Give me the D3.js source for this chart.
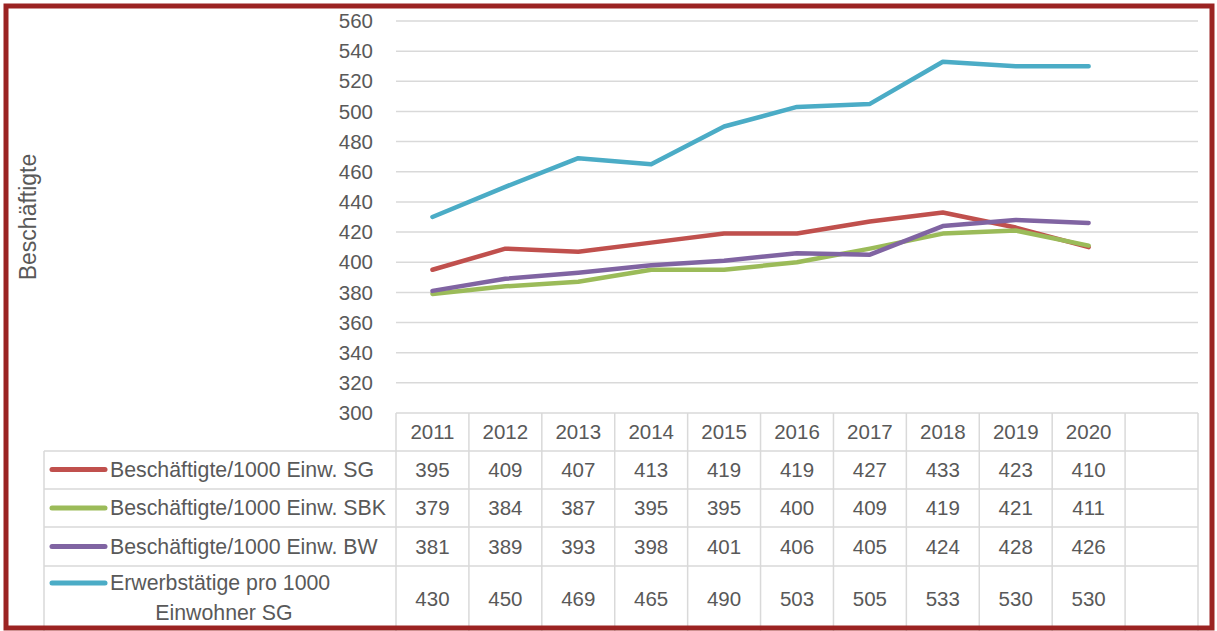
<!DOCTYPE html>
<html>
<head>
<meta charset="utf-8">
<script src="https://cdn.jsdelivr.net/npm/d3@7"></script>
<style>
  body { margin: 0; background: #fff; }
  svg { display: block; font-family: "Liberation Sans", Arial, sans-serif; }
  .tick-label, .cell-text { fill: #595959; font-size: 20.5px; }
  .legend-text { font-size: 21.3px; }
  .grid { stroke: #d9d9d9; stroke-width: 1.5; }
  .table-line { stroke: #d9d9d9; stroke-width: 1.5; fill: none; }
  .series { fill: none; stroke-width: 4.5; stroke-linejoin: round; stroke-linecap: round; }
</style>
</head>
<body>
<svg></svg>
<script>
// Data
var years = ["2011", "2012", "2013", "2014", "2015", "2016", "2017", "2018", "2019", "2020"];
var seriesNames = [
  ["Beschäftigte/1000 Einw. SG"],
  ["Beschäftigte/1000 Einw. SBK"],
  ["Beschäftigte/1000 Einw. BW"],
  ["Erwerbstätige pro 1000", "Einwohner SG"]
];
var seriesColors = ["#c0504d", "#9bbb59", "#8064a2", "#4bacc6"];
var valuesSG  = [395, 409, 407, 413, 419, 419, 427, 433, 423, 410];
var valuesSBK = [379, 384, 387, 395, 395, 400, 409, 419, 421, 411];
var valuesBW  = [381, 389, 393, 398, 401, 406, 405, 424, 428, 426];
var valuesErw = [430, 450, 469, 465, 490, 503, 505, 533, 530, 530];
var yTicks = d3.range(300, 561, 20);
var allValues = [valuesSG, valuesSBK, valuesBW, valuesErw];

// Layout
var svgWidth = 1217,
    svgHeight = 631,
    plotLeft = 396,
    plotRight = 1198,
    plotTop = 21,
    plotBottom = 413,
    legendLeft = 44,
    rowEdges = [413, 451, 489, 527, 566, 640];

var svg = d3.select("svg")
  .attr("width", svgWidth)
  .attr("height", svgHeight);

// one spare column after 2020, as in the spreadsheet
var x = d3.scaleBand()
  .domain(years.concat([""]))
  .range([plotLeft, plotRight]);

var y = d3.scaleLinear()
  .domain([300, 560])
  .range([plotBottom, plotTop]);

// Gridlines
svg.append("g")
  .selectAll("line")
  .data(yTicks.filter(function (d) { return d > 300; }))
  .enter()
    .append("line")
    .classed("grid", true)
    .attr("x1", plotLeft)
    .attr("x2", plotRight)
    .attr("y1", function (d) { return y(d); })
    .attr("y2", function (d) { return y(d); });

// Y tick labels
svg.append("g")
  .selectAll("text")
  .data(yTicks)
  .enter()
    .append("text")
    .classed("tick-label", true)
    .attr("x", 373)
    .attr("y", function (d) { return y(d); })
    .attr("dy", "0.35em")
    .attr("text-anchor", "end")
    .text(function (d) { return d; });

// Y axis title
svg.append("text")
  .classed("tick-label", true)
  .attr("transform", "translate(" + [36, 217] + ") rotate(-90)")
  .attr("text-anchor", "middle")
  .style("font-size", "23px")
  .text("Beschäftigte");

// Lines
var line = d3.line()
  .x(function (d, i) { return x(years[i]) + x.bandwidth() / 2; })
  .y(function (d) { return y(d); });

svg.append("g")
  .selectAll("path")
  .data(allValues)
  .enter()
    .append("path")
    .classed("series", true)
    .attr("d", line)
    .style("stroke", function (d, i) { return seriesColors[i]; });

// Data table
var table = svg.append("g");

table.append("line")
  .classed("table-line", true)
  .attr("x1", plotLeft).attr("x2", plotRight)
  .attr("y1", rowEdges[0]).attr("y2", rowEdges[0]);

rowEdges.slice(1).forEach(function (ry) {
  table.append("line")
    .classed("table-line", true)
    .attr("x1", legendLeft).attr("x2", plotRight)
    .attr("y1", ry).attr("y2", ry);
});

var colEdges = years.concat([""]).map(function (d) { return x(d); }).concat([plotRight]);
colEdges.forEach(function (cx) {
  table.append("line")
    .classed("table-line", true)
    .attr("x1", cx).attr("x2", cx)
    .attr("y1", rowEdges[0]).attr("y2", rowEdges[5]);
});
table.append("line")
  .classed("table-line", true)
  .attr("x1", legendLeft).attr("x2", legendLeft)
  .attr("y1", rowEdges[1]).attr("y2", rowEdges[5]);

// header years
table.selectAll(".year")
  .data(years)
  .enter()
    .append("text")
    .classed("cell-text", true)
    .attr("x", function (d) { return x(d) + x.bandwidth() / 2; })
    .attr("y", (rowEdges[0] + rowEdges[1]) / 2)
    .attr("dy", "0.35em")
    .attr("text-anchor", "middle")
    .text(function (d) { return d; });

var rowMid = [469.5, 508, 546.5, 599];

allValues.forEach(function (vals, r) {
  var row = table.append("g");
  row.selectAll("text")
    .data(vals)
    .enter()
      .append("text")
      .classed("cell-text", true)
      .attr("x", function (d, i) { return x(years[i]) + x.bandwidth() / 2; })
      .attr("y", rowMid[r])
      .attr("dy", "0.35em")
      .attr("text-anchor", "middle")
      .text(function (d) { return d; });

  // legend key
  var names = seriesNames[r];
  var keyY = names.length > 1 ? rowMid[r] - 16 : rowMid[r];
  row.append("line")
    .attr("x1", 52).attr("x2", 105)
    .attr("y1", keyY).attr("y2", keyY)
    .style("stroke", seriesColors[r])
    .style("stroke-width", 5)
    .style("stroke-linecap", "round");
  if (names.length === 1) {
    row.append("text")
      .classed("cell-text legend-text", true)
      .attr("x", 110)
      .attr("y", rowMid[r])
      .attr("dy", "0.35em")
      .text(names[0]);
  } else {
    row.append("text")
      .classed("cell-text legend-text", true)
      .attr("x", 110)
      .attr("y", rowMid[r] - 16)
      .attr("dy", "0.35em")
      .text(names[0]);
    row.append("text")
      .classed("cell-text legend-text", true)
      .attr("x", 224)
      .attr("y", rowMid[r] + 14)
      .attr("dy", "0.35em")
      .attr("text-anchor", "middle")
      .text(names[1]);
  }
});

// Outer frame
svg.append("rect")
  .attr("x", 6)
  .attr("y", 6)
  .attr("width", 1206)
  .attr("height", 622)
  .style("fill", "none")
  .style("stroke", "#9b2322")
  .style("stroke-width", 5);
</script>
</body>
</html>
